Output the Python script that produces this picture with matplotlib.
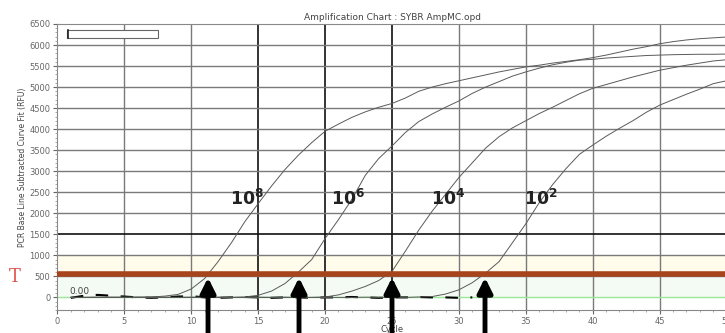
import matplotlib.pyplot as plt
from matplotlib.patches import Rectangle

cycles = list(range(1, 51))

# fluorescence per cycle
rfu_1e8 = [0, 0, 5, 0, 0, 5, 10, 30, 70, 200,
           450, 850, 1300, 1800, 2230, 2650, 3040, 3380, 3680, 3950,
           4120, 4280, 4410, 4520, 4610, 4740, 4900, 5000, 5080, 5150,
           5220, 5290, 5360, 5420, 5480, 5520, 5570, 5610, 5650, 5700,
           5760, 5830, 5900, 5960, 6030, 6080, 6120, 6150, 6170, 6190]
rfu_1e6 = [0, 0, 0, 5, 0, 0, 0, 5, 0, 0,
           0, 5, 0, 10, 50, 150, 330, 600, 900, 1400,
           1850, 2330, 2900, 3300, 3600, 3920, 4180, 4360, 4520, 4670,
           4850, 5000, 5130, 5260, 5360, 5450, 5530, 5590, 5640, 5660,
           5690, 5710, 5730, 5750, 5760, 5770, 5775, 5780, 5780, 5785]
rfu_1e4 = [0, 0, 0, 0, 5, 0, 0, 0, 0, 5,
           0, 0, 0, 0, 5, 0, 0, 0, 0, 10,
           60, 150, 260, 400, 620, 1100, 1600, 2050, 2450, 2850,
           3200, 3550, 3820, 4030, 4200, 4370, 4520, 4680, 4840, 4970,
           5060, 5150, 5240, 5320, 5400, 5460, 5520, 5570, 5620, 5650]
rfu_1e2 = [0, 0, 0, 0, 0, 5, 0, 0, 0, 0,
           5, 0, 0, 0, 0, 0, 5, 0, 0, 0,
           0, 0, 5, 0, 0, 0, 10, 20, 80, 180,
           350, 580, 850, 1300, 1750, 2250, 2680, 3060, 3400, 3620,
           3830, 4020, 4200, 4400, 4570, 4700, 4830, 4950, 5080, 5150]
ntc_cycles = list(range(1, 32))
rfu_ntc = [-10, 40, 60, 40, 20, 0, -10, 0, 20, 30,
           0, -10, 0, 10, 0, -10, 0, 0, -10, 0,
           0, 10, 0, -10, 0, 0, 10, 0, 0, -10, 0]

labels = [r'$\mathbf{10^{8}}$', r'$\mathbf{10^{6}}$', r'$\mathbf{10^{4}}$', r'$\mathbf{10^{2}}$']
label_x = [14.2, 21.7, 29.2, 36.1]
ct_values = [11.25, 18.05, 25.0, 31.95]
threshold = 560

fig = plt.figure(figsize=(7.25, 3.33), dpi=100)
ax = fig.add_axes([0.0793, 0.069, 0.9228, 0.859])

# pale bands around the threshold
ax.axhspan(threshold, 1000, color='#fffcec', zorder=0)
ax.axhspan(0, threshold, color='#f4fbf4', zorder=0)

for x in range(5, 50, 5):
    dark = x in (15, 20, 25)
    ax.axvline(x, color='#111111' if dark else '#7a7a7a', lw=1.2 if dark else 1.0, zorder=1)
for y in range(500, 6500, 500):
    dark = y == 1500
    ax.axhline(y, color='#111111' if dark else '#7a7a7a', lw=1.2 if dark else 1.0, zorder=1)

ax.axhline(0, color='#9be89b', lw=1.0, zorder=2)
ax.plot(ntc_cycles, rfu_ntc, color='black', lw=1.5, ls=(0, (6, 6)), zorder=3)

for rfu in (rfu_1e8, rfu_1e6, rfu_1e4, rfu_1e2):
    ax.plot(cycles, rfu, color='#5a5a5a', lw=0.7, zorder=4)

ax.axhline(threshold, color='#a8441c', lw=4, zorder=5)

for lab, lx in zip(labels, label_x):
    ax.text(lx, 2350, lab, fontsize=12.5, color='#222222', ha='center', va='center', zorder=6)

for ct in ct_values:
    ax.annotate('', xy=(ct, 470), xytext=(ct, -1400), annotation_clip=False,
                arrowprops=dict(arrowstyle='-|>', lw=3.5, color='black', mutation_scale=22,
                                shrinkA=0, shrinkB=0), zorder=7)

# empty legend box
ax.add_patch(Rectangle((0.7, 6170), 6.8, 190, facecolor='white', edgecolor='#666666', lw=0.8, zorder=6))
ax.plot([0.75, 0.75], [6170, 6360], color='#222222', lw=1.2, zorder=7)

ax.text(0.9, 80, '0.00', fontsize=6.5, color='#444444', zorder=6)
fig.text(0.012, 0.168, 'T', fontsize=13, color='#e0564f', family='DejaVu Serif', ha='left', va='center')

ax.set_xlim(0, 50)
ax.set_ylim(-300, 6500)
ax.set_xticks(range(0, 51, 5))
ax.set_yticks(range(0, 6501, 500))
ax.set_xticks(range(0, 51), minor=True)
ax.set_yticks(range(-300, 6501, 100), minor=True)
ax.tick_params(labelsize=6, colors='#666666', length=3, width=0.8, pad=2)
ax.tick_params(which='minor', length=1.5, width=0.5, colors='#888888')
for s in ax.spines.values():
    s.set_color('#888888')

ax.set_title('Amplification Chart : SYBR AmpMC.opd', fontsize=6.5, color='#444444', pad=3)
ax.set_xlabel('Cycle', fontsize=6, color='#444444', labelpad=-1)
ax.set_ylabel('PCR Base Line Subtracted Curve Fit (RFU)', fontsize=5.5, color='#444444', labelpad=2)

fig.savefig('out.png', dpi=100)
